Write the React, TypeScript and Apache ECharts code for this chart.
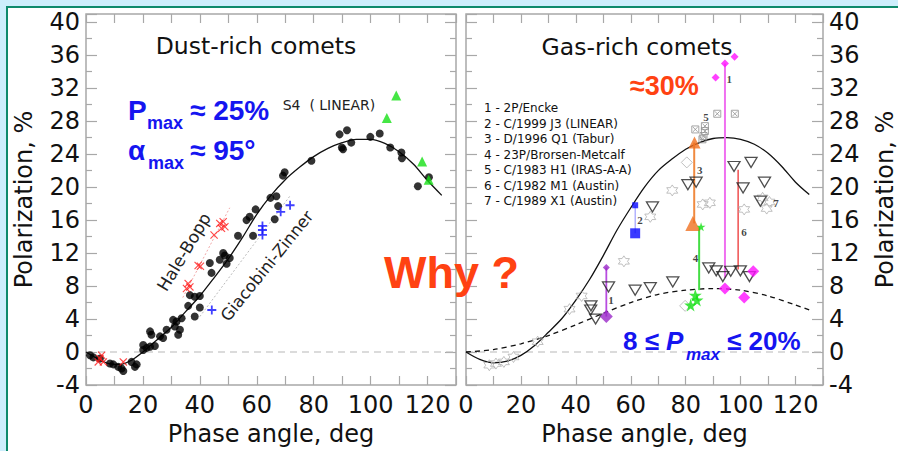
import React, { useEffect, useRef } from 'react';
import * as echarts from 'echarts';

// ---------- data (deg, polarization %) ----------
const dustCurve: number[][] = [
  [0, 0], [4, -0.8], [8, -1.4], [12, -1.5], [16, -1.0], [20, 0], [25, 1.5], [30, 3.0], [35, 4.9],
  [40, 6.8], [45, 9.0], [50, 11.3], [55, 13.9], [60, 16.7], [65, 19.0], [70, 20.9], [75, 22.4],
  [80, 23.7], [85, 24.7], [90, 25.4], [95, 25.8], [100, 25.8], [105, 25.3], [110, 24.3],
  [115, 22.8], [120, 20.8], [125, 19.0],
];
const dustDots: number[][] = [
  [1.4, -0.4], [2.6, -0.65], [4.9, -0.8], [8.4, -1.4], [9.6, -1.5], [11.3, -1.8], [12.5, -2.0],
  [13.1, -2.3], [16, -1.2], [17.8, -1.5], [17.2, -1.8], [20.1, 0.85], [21.3, 0.5], [22.5, 0.65],
  [24.2, 0.73], [20.1, 0.24], [22.5, 2.5], [23, 2.1], [26, 1.9], [27.1, 1.7], [28.3, 2.7],
  [30.6, 3.9], [31.8, 3.7], [31.2, 3.1], [33, 2.7], [32.4, 2.1], [33.6, 4.1], [35.9, 5.6],
  [36.5, 6.9], [38.2, 4.3], [40, 5.4], [38.2, 6.7], [40, 6.8], [43.5, 10.8], [44.1, 9.6],
  [47, 11.2], [48.2, 12], [48.8, 11.7], [49.4, 10.7], [50.5, 11.4], [53.4, 14.1], [56.4, 16.0],
  [57.5, 16.4], [58.7, 14.1], [59.6, 17.3], [64.8, 18.7], [66.9, 18.9], [67.5, 17.7], [66.3, 16.1],
  [69.2, 21.4], [69.8, 21.8], [79.2, 23.2], [89.1, 26.4], [91.7, 26.9], [89.9, 24.8], [90.3, 24.6],
  [93.2, 25.4], [99.9, 26.1], [103.2, 26.5], [106.9, 24.8], [110.8, 24.2], [111, 23.5],
  [116.6, 20.1], [120.5, 21.2],
];
const s4Linear: number[][] = [[109, 31.1], [105.7, 28.4], [118.1, 23.1], [120.4, 20.9]];
const haleBopp: number[][] = [
  [35.9, 8.3], [36.5, 7.9], [35.3, 7.7], [39.4, 10.5], [40.2, 10.4], [45, 14.2], [47, 15.6],
  [48.2, 15.8], [48.8, 15.2], [47.6, 15.0], [4.9, -0.8], [6.1, -1.2], [5.5, -0.4], [4.3, -1.2],
  [13.1, -1.2],
];
const giacobiniZinner: number[][] = [[44.2, 5.1], [62, 15.3], [62, 14.8], [62, 14.2], [68.4, 17.0], [71.7, 17.8]];
const hbGuide: number[][] = [[34, 6.6], [50.5, 17.5]];
const gzGuide: number[][] = [[40, 4.3], [71.6, 18.9]];

const gasSolidCurve: number[][] = [
  [0, 0], [5, -0.9], [10, -1.3], [15, -1.1], [20, -0.4], [25, 0.8], [30, 2.4], [35, 4.1],
  [40, 6.3], [45, 8.8], [50, 11.7], [55, 14.8], [60, 17.5], [65, 20.0], [70, 22.0], [75, 23.4],
  [80, 24.6], [85, 25.4], [90, 25.9], [95, 26.0], [100, 25.8], [105, 25.2], [110, 24.1],
  [115, 22.5], [120, 20.6], [125, 19.1],
];
const gasDashedCurve: number[][] = [
  [0, 0], [10, 0.3], [20, 1.0], [30, 2.0], [40, 3.3], [50, 4.7], [60, 6.0], [70, 7.0],
  [80, 7.5], [90, 7.7], [100, 7.5], [110, 6.8], [120, 5.7], [125, 5.1],
];
const gasTriangles: number[][] = [
  [45.5, 5.6], [45.4, 5.1], [47.2, 4.0], [51.9, 7.9], [61.6, 7.5], [67.1, 7.8], [75.3, 8.5],
  [88.4, 10.2], [91.1, 9.85], [93.5, 9.15], [96.4, 9.8], [99.9, 9.85], [103.2, 9.15],
  [67.9, 17.6], [80.8, 20.3], [83.8, 20.6], [97.6, 22.5], [103.8, 23.0], [100.9, 19.9],
  [108.7, 20.6], [107.2, 18.3],
];
const gasHexagrams: number[][] = [
  [8.5, -1.6], [10.9, -1.4], [13.8, -1.2], [17.3, -0.6], [26.1, 1.25], [37.7, 5.2], [42.1, 6.8],
  [57.5, 11.0], [67.1, 16.4], [75.1, 19.6], [86.2, 17.9], [88.8, 18.1], [101.3, 17.3],
  [108, 18.7], [110.5, 18.2], [109.5, 17.4],
];
const gasHollowDiamonds: number[][] = [[80.4, 23.0], [79.8, 5.6]];
const irasSquares: number[][] = [[91.5, 28.9], [97.9, 28.9], [83.5, 27.0], [87, 27.4], [87, 26.8], [86.5, 26.2], [86.1, 25.8]];
const enckeBig: number[][] = [[51.1, 4.3]];
const enckeSmall: number[][] = [[51.1, 10.25]];
const enckeBar: number[][] = [[51.1, 4.3], [51.1, 10.25]];
const enckeMagSmall: number[][] = [[90.9, 33.3], [94.3, 35.0], [97.8, 35.8]];
const enckeMagBig: number[][] = [[94.3, 7.7], [101.3, 6.6], [104.6, 9.8]];
const enckeMagBar: number[][] = [[94.3, 35.0], [94.3, 9.0]];
const j3Small: number[][] = [[61.6, 17.8]];
const j3Big: number[][] = [[61.6, 14.4]];
const j3Bar: number[][] = [[61.6, 17.8], [61.6, 14.4]];
const taburTop: number[][] = [[83.2, 25.4]];
const taburBottom: number[][] = [[82.6, 15.6]];
const taburBar: number[][] = [[83.1, 25.4], [83.1, 15.6]];
const brorsenSmall: number[][] = [[85.6, 15.2]];
const brorsenBig: number[][] = [[83.5, 6.9], [84.1, 6.3], [81.8, 5.7]];
const brorsenBar: number[][] = [[84.9, 15.2], [84.9, 7.5]];
const austinBar: number[][] = [[99.1, 22.1], [99.1, 10.0]];
const numberLabels = [
  { name: '1', value: [52.8, 6.3] }, { name: '1', value: [95.9, 33.1] },
  { name: '2', value: [63.4, 16.0] }, { name: '3', value: [85.1, 22.1] },
  { name: '4', value: [83.6, 11.4] }, { name: '5', value: [87.4, 28.5] },
  { name: '6', value: [101.2, 14.5] }, { name: '7', value: [112.9, 18.1] },
];
const zeroLine: number[][] = [[0, 0], [130, 0]];
const legendLines = [
  '1 - 2P/Encke', '2 - C/1999 J3 (LINEAR)', '3 - D/1996 Q1 (Tabur)', '4 - 23P/Brorsen-Metcalf',
  '5 - C/1983 H1 (IRAS-A-A)', '6 - C/1982 M1 (Austin)', '7 - C/1989 X1 (Austin)',
];
const xLabelStep = 20;
const yLabelStep = 4;

// ---------- styling ----------
const FONT = 'DejaVu Sans';
const BOLD = 'Liberation Sans';
const TICK = '#a8a8a8';
const BLUE = '#1515f0';
const ORANGE = '#ff4212';
const DEG = Math.PI / 180;
const AX = 24;

const hexagram = 'path://M10,0 L12.887,5 L18.66,5 L15.774,10 L18.66,15 L12.887,15 L10,20 L7.113,15 L1.34,15 L4.226,10 L1.34,5 L7.113,5 Z';
const crossX = 'path://M0,1 L1,0 L5,4 L9,0 L10,1 L6,5 L10,9 L9,10 L5,6 L1,10 L0,9 L4,5 Z';
const plus = 'path://M4,0 L6,0 L6,4 L10,4 L10,6 L6,6 L6,10 L4,10 L4,6 L0,6 L0,4 L4,4 Z';
const star5 = 'path://M50,0 L61,35 L98,35 L68,57 L79,91 L50,70 L21,91 L32,57 L2,35 L39,35 Z';
const boxX = 'path://M0,0 L10,0 L10,10 L0,10 Z M1.5,1.5 L8.5,8.5 M8.5,1.5 L1.5,8.5';

function xAxis(grid: number, position: string, showLabel: boolean, name?: string) {
  return {
    type: 'value', gridIndex: grid, position, min: 0, max: 130, interval: 10,
    axisLine: { show: false, onZero: false }, splitLine: { show: false },
    axisTick: { show: true, inside: true, length: 9, lineStyle: { color: TICK, width: 1.2 } },
    axisLabel: {
      show: showLabel, margin: 8, fontSize: AX, fontFamily: FONT, color: '#111',
      formatter: (v: number) => (v % xLabelStep === 0 && v <= 120 ? String(v) : ''),
    },
    name: name || '', nameLocation: 'middle', nameGap: 37,
    nameTextStyle: { fontSize: AX, fontFamily: FONT, color: '#111' },
  };
}
function yAxis(grid: number, position: string, showLabel: boolean, name?: string, gap = 50) {
  return {
    type: 'value', gridIndex: grid, position, min: -4, max: 41, interval: yLabelStep,
    axisLine: { show: false, onZero: false }, splitLine: { show: false },
    axisTick: { show: true, inside: true, length: 11, lineStyle: { color: TICK, width: 1.2 } },
    minorTick: { show: true, splitNumber: 2, length: 6, lineStyle: { color: TICK, width: 1.2 } },
    axisLabel: {
      show: showLabel, margin: 6, fontSize: AX, fontFamily: FONT, color: '#111',
      formatter: (v: number) => (v <= 40 ? String(v) : ''),
    },
    name: name || '', nameLocation: 'middle', nameGap: gap, nameRotate: 90,
    nameTextStyle: { fontSize: AX, fontFamily: FONT, color: '#111' },
  };
}

function scat(data: any, panel: number, symbol: string, size: any, itemStyle: any, extra: any = {}) {
  return {
    type: 'scatter', xAxisIndex: panel * 2, yAxisIndex: panel * 2, data, symbol, symbolSize: size,
    itemStyle, silent: true, ...extra,
  };
}
function line(data: any, panel: number, color: string, width: number, type: any = 'solid', smooth: any = false, z = 2) {
  return {
    type: 'line', xAxisIndex: panel * 2, yAxisIndex: panel * 2, data, showSymbol: false, symbol: 'none',
    lineStyle: { color, width, type }, smooth, silent: true, z,
  };
}
function txt(text: string, x: number, y: number, o: any = {}) {
  return {
    type: 'text', x, y, z: 100, rotation: o.rotation || 0, silent: true,
    style: {
      text, fill: o.color || '#111', fontSize: o.size || 14, fontFamily: o.family || FONT,
      fontWeight: o.weight || 'normal', fontStyle: o.style || 'normal',
      align: o.align || 'left', verticalAlign: 'middle', lineHeight: o.lineHeight,
    },
  };
}

export default function App() {
  const ref = useRef<HTMLDivElement>(null);
  useEffect(() => {
    if (!ref.current) return;
    const chart = echarts.init(ref.current, null, { renderer: 'svg' });
    const boldB = { color: BLUE, family: BOLD, weight: 'bold' };
    const boldO = { color: ORANGE, family: BOLD, weight: 'bold' };
    chart.setOption({
      animation: false,
      backgroundColor: '#ffffff',
      grid: [
        { left: 86, top: 14, width: 370, height: 371, show: true, borderColor: '#a8a8a8', borderWidth: 1.5 },
        { left: 466, top: 14, width: 369, height: 371, show: true, borderColor: '#a8a8a8', borderWidth: 1.5 },
      ],
      xAxis: [
        xAxis(0, 'bottom', true, 'Phase angle, deg'), xAxis(0, 'top', false),
        xAxis(1, 'bottom', true, 'Phase angle, deg'), xAxis(1, 'top', false),
      ],
      yAxis: [
        yAxis(0, 'left', true, 'Polarization, %', 50), yAxis(0, 'right', false),
        yAxis(1, 'left', false), yAxis(1, 'right', true, 'Polarization, %', 50),
      ],
      series: [
        line(zeroLine, 0, '#b8b8b8', 1.2, [7, 5]),
        line(zeroLine, 1, '#b8b8b8', 1.2, [7, 5]),
        line(hbGuide, 0, '#f0a8a8', 1, [2, 2]),
        line(gzGuide, 0, '#bbbbbb', 1, [2, 2]),
        line(dustCurve, 0, '#111', 1.3, 'solid', 0.3),
        scat(dustDots, 0, 'circle', 8, { color: '#000' }),
        scat(s4Linear, 0, 'triangle', 10, { color: '#16e016' }),
        scat(haleBopp, 0, crossX, 8, { color: '#ff1a1a' }),
        scat(giacobiniZinner, 0, plus, 9, { color: '#1010ff' }),

        line(gasSolidCurve, 1, '#111', 1.3, 'solid', 0.3),
        line(gasDashedCurve, 1, '#111', 1.3, [5, 4], 0.3),
        scat(gasHexagrams, 1, hexagram, 11, { color: 'rgba(0,0,0,0)', borderColor: '#b0b0b0', borderWidth: 1 }),
        scat(gasHollowDiamonds, 1, 'diamond', 11, { color: 'rgba(0,0,0,0)', borderColor: '#b0b0b0', borderWidth: 1 }),
        scat(irasSquares, 1, boxX, 7, { color: 'rgba(0,0,0,0)', borderColor: '#909090', borderWidth: 1 }),
        scat(gasTriangles, 1, 'triangle', [12, 10], { color: 'rgba(0,0,0,0)', borderColor: '#222', borderWidth: 1.3 }, { symbolRotate: 180 }),
        line(enckeBar, 1, '#b84ce0', 1.8),
        scat(enckeBig, 1, 'diamond', 13, { color: '#9a28c8' }),
        scat(enckeSmall, 1, 'diamond', 7, { color: '#9a28c8' }),
        line(enckeMagBar, 1, '#f070f0', 2),
        scat(enckeMagSmall, 1, 'diamond', 8, { color: '#ff10ff' }),
        scat(enckeMagBig, 1, 'diamond', 12, { color: '#ff10ff' }),
        line(j3Bar, 1, '#8c8cff', 1),
        scat(j3Small, 1, 'rect', 6, { color: '#0a0aff' }),
        scat(j3Big, 1, 'rect', 10, { color: '#0a0aff' }),
        line(taburBar, 1, '#f08a40', 2),
        scat(taburTop, 1, 'triangle', 12, { color: '#f07020' }),
        scat(taburBottom, 1, 'triangle', 15, { color: '#f07020' }),
        line(brorsenBar, 1, '#44dd44', 2),
        scat(brorsenSmall, 1, star5, 9, { color: '#12e012' }),
        scat(brorsenBig, 1, star5, 13, { color: '#12e012' }),
        line(austinBar, 1, '#f05a5a', 1.6),
        scat(numberLabels, 1, 'circle', 1, { color: 'rgba(0,0,0,0)' }, {
          label: {
            show: true, position: 'inside', formatter: '{b}', color: '#111',
            fontFamily: 'Liberation Serif', fontWeight: 'bold', fontSize: 11,
          },
        }),
      ],
      graphic: [
        { type: 'rect', silent: true, shape: { x: 0, y: 0, width: 898, height: 7 }, style: { fill: '#cdeefc' } },
        { type: 'rect', silent: true, shape: { x: 0, y: 0, width: 7, height: 451 }, style: { fill: '#cdeefc' } },
        { type: 'line', silent: true, shape: { x1: 6, y1: 7, x2: 898, y2: 7 }, style: { stroke: '#0e8a6c', lineWidth: 2 } },
        { type: 'line', silent: true, shape: { x1: 7, y1: 6, x2: 7, y2: 451 }, style: { stroke: '#0e8a6c', lineWidth: 2 } },
        txt('Dust-rich comets', 256, 46, { size: 23.5, align: 'center' }),
        txt('Gas-rich comets', 637, 47, { size: 23.5, align: 'center' }),
        txt('S4  ( LINEAR)', 329, 105, { size: 14, align: 'center', color: '#222' }),
        txt('Hale-Bopp', 184, 252, { size: 17, align: 'center', rotation: 59 * DEG, color: '#222' }),
        txt('Giacobini-Zinner', 267, 266, { size: 16.5, align: 'center', rotation: 51 * DEG, color: '#222' }),
        txt('P', 128, 110, { ...boldB, size: 28 }),
        txt('max', 147, 123, { ...boldB, size: 18 }),
        txt('≈ 25%', 190, 110, { ...boldB, size: 28 }),
        txt('α', 128, 150, { ...boldB, size: 28 }),
        txt('max', 148, 163, { ...boldB, size: 18 }),
        txt('≈ 95°', 190, 150, { ...boldB, size: 28 }),
        txt(legendLines.join('\n'), 484, 154.5, { size: 12, lineHeight: 15.5 }),
        txt('≈30%', 630, 86, { ...boldO, size: 27 }),
        txt('Why ?', 384, 272, { ...boldO, size: 45 }),
        txt('8 ≤', 623, 341, { ...boldB, size: 26 }),
        txt('P', 666, 341, { ...boldB, size: 26, style: 'italic' }),
        txt('max', 686, 354, { ...boldB, size: 17, style: 'italic' }),
        txt('≤ 20%', 727, 341, { ...boldB, size: 26 }),
      ],
    });
    return () => chart.dispose();
  }, []);
  return <div ref={ref} style={{ position: 'fixed', left: 0, top: 0, width: 898, height: 451 }} />;
}
